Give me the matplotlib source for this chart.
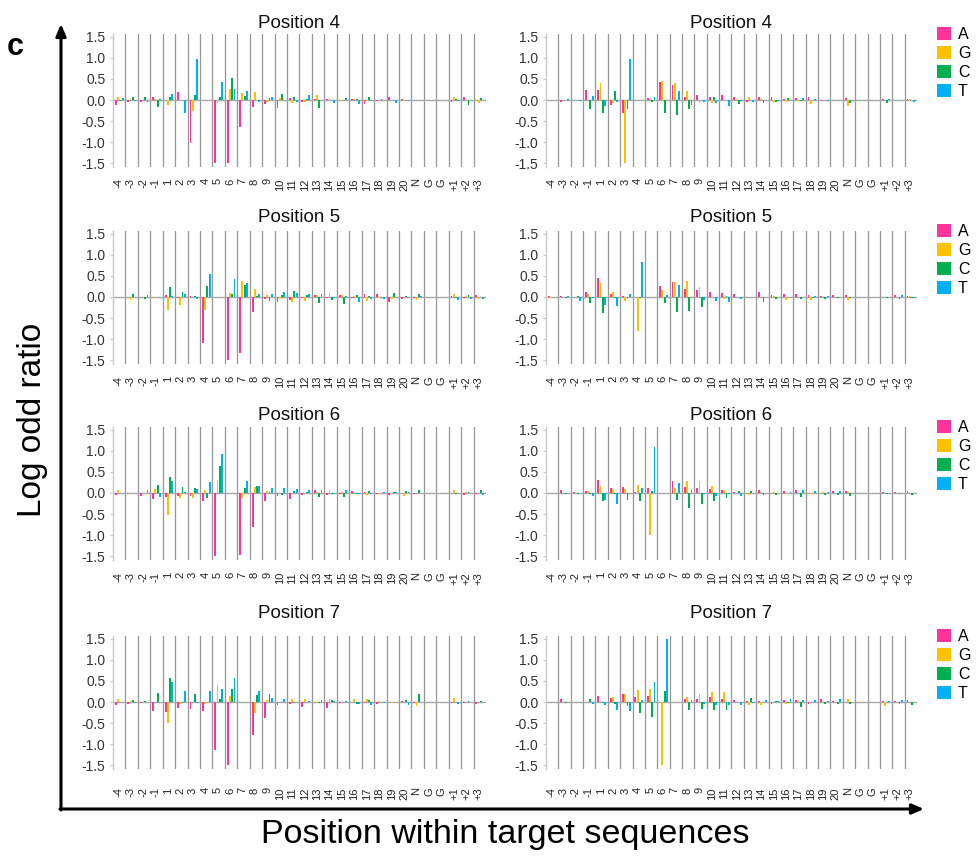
import matplotlib
matplotlib.use("Agg")
import matplotlib.pyplot as plt
from matplotlib.patches import Patch
import numpy as np

plt.rcParams['font.family'] = ['Liberation Sans', 'DejaVu Sans']
plt.rcParams['axes.unicode_minus'] = False

positions = ['-4', '-3', '-2', '-1'] + [str(i) for i in range(1, 21)] + ['N', 'G', 'G', '+1', '+2', '+3']
bases = ['A', 'G', 'C', 'T']
base_colors = ['#FF3399', '#FFC000', '#00B050', '#00B0F0']
titles = ['Position 4', 'Position 4', 'Position 5', 'Position 5',
          'Position 6', 'Position 6', 'Position 7', 'Position 7']

# ---- Left column, Position 4
L4_A = [-0.12,-0.05,-0.05,0.08,0.0,0.2,-1.02,0,-1.5,-1.5,-0.65,-0.17,-0.1,-0.2,0.04,-0.04,0.02,0.02,0.0,0.02,-0.1,-0.03,0.06,0.02,0.01,0,0,-0.05,0.06,0.0]
L4_G = [0.06,0.02,0.0,0.03,-0.12,0.0,-0.27,0,-0.08,0.27,0.17,0.2,-0.05,0.05,-0.08,-0.04,0.13,0.02,-0.02,0.02,-0.02,0.0,0.0,-0.02,0.0,0,0,0.07,0.0,-0.06]
L4_C = [-0.03,0.07,0.07,-0.17,0.07,0.0,0.12,0,0.08,0.53,0.1,0.0,0.05,0.15,0.08,0.02,-0.2,0.0,0.0,0.02,0.07,0.03,0.0,0.0,0.0,0,0,0.02,-0.12,0.05]
L4_T = [0.05,-0.03,-0.05,0.02,0.15,-0.3,0.97,0,0.43,0.27,0.22,-0.05,0.07,0.0,-0.05,0.12,0.0,-0.07,0.05,-0.1,-0.02,0.0,-0.07,-0.03,0.0,0,0,-0.03,0.0,0.0]

# ---- Right column, Position 4
R4_A = [-0.01,-0.05,0.0,0.23,0.23,-0.12,-0.3,0,0.04,0.42,0.35,0.07,0.13,0.07,0.11,0.06,-0.05,0.07,0.08,0.03,0.05,0.08,0.01,0.01,0.05,0,0,0.03,0.01,0.02]
R4_G = [-0.01,0.0,0.0,0.0,0.4,-0.07,-1.5,0,0.03,0.45,0.4,0.22,-0.07,-0.06,0.0,0.02,0.06,0.02,-0.05,-0.05,-0.03,-0.1,0.01,0.0,-0.15,0,0,0.0,0.0,0.02]
R4_C = [0.0,0.0,0.0,-0.22,-0.3,0.22,-0.22,0,-0.05,-0.3,-0.35,-0.22,0.0,0.07,0.0,-0.1,0.0,-0.06,-0.05,0.04,-0.03,0.0,0.0,0.0,-0.06,0,0,-0.07,0.0,0.0]
R4_T = [0.0,0.02,-0.02,0.1,-0.15,-0.05,0.98,0,0.07,0.0,0.22,-0.12,-0.04,-0.08,-0.14,-0.02,-0.04,0.0,-0.02,0.0,0.04,0.03,-0.02,0.0,0.0,0,0,0.03,0.0,-0.05]

# ---- Left column, Position 5
L5_A = [0.01,0.0,0.0,0.0,0.04,-0.02,0.02,-1.1,0,-1.5,-1.32,-0.35,-0.04,-0.12,-0.07,-0.03,0.04,-0.02,0.05,-0.02,0.07,0.07,-0.11,-0.04,-0.03,0,0,0.02,-0.02,0.05]
L5_G = [0.0,-0.07,0.0,-0.02,-0.32,-0.2,0.0,-0.3,0,0.1,0.38,0.18,0.05,-0.05,-0.12,-0.1,0.04,0.1,0.04,0.02,-0.1,-0.03,-0.05,0.0,-0.08,0,0,0.07,0.02,-0.04]
L5_C = [0.01,0.07,-0.05,0.0,0.23,0.13,0.02,0.27,0,0.07,0.28,0.03,-0.1,0.05,0.14,0.04,-0.15,-0.08,-0.17,0.04,0.02,-0.03,0.1,0.03,0.07,0,0,-0.03,0.05,0.0]
L5_T = [0.0,0.0,0.05,0.0,0.03,0.08,-0.04,0.55,0,0.42,0.33,0.07,0.06,0.12,0.1,0.08,0.06,-0.02,0.02,-0.12,-0.04,-0.05,0.0,0.0,0.02,0,0,-0.08,-0.05,-0.05]

# ---- Right column, Position 5
R5_A = [0.03,0.03,0.0,0.13,0.44,0.06,0.02,0.01,0,0.25,0.35,0.18,0.17,0.12,0.1,0.08,0.0,0.12,0.05,0.07,0.06,0.05,0.02,0.04,0.05,0,0,0.01,0.04,0.02]
R5_G = [-0.03,-0.03,0.0,0.07,0.33,0.13,-0.1,-0.8,0,0.16,0.35,0.38,0.23,0.0,-0.05,0.0,0.01,0.0,0.02,-0.07,0.0,-0.07,0.0,0.0,-0.08,0,0,0.0,0.0,0.02]
R5_C = [0.0,-0.02,0.03,-0.15,-0.37,-0.02,-0.03,-0.02,0,-0.15,-0.35,-0.33,-0.24,0.0,0.02,0.0,0.0,-0.12,-0.05,0.0,-0.04,-0.02,-0.05,-0.03,-0.03,0,0,-0.03,-0.05,-0.03]
R5_T = [0.0,0.03,-0.1,-0.02,-0.2,-0.22,0.07,0.82,0,0.05,0.28,-0.03,-0.08,-0.1,-0.13,-0.05,0.0,0.0,0.0,0.0,0.0,0.03,0.03,0.0,0.0,0,0,0.01,0.05,-0.02]

# ---- Left column, Position 6
L6_A = [-0.04,0.0,-0.07,-0.15,-0.1,-0.07,-0.08,-0.18,-1.5,0,-1.47,-0.8,-0.18,-0.07,-0.15,-0.04,0.08,-0.04,-0.02,0.05,0.03,-0.02,-0.04,0.0,-0.02,0,0,0.0,-0.04,-0.02]
L6_G = [0.07,0.0,0.0,0.1,-0.53,-0.12,-0.12,0.07,0.3,0,-0.12,0.15,0.05,0.0,0.0,0.0,0.02,0.07,0.03,0.0,-0.05,-0.02,0.0,-0.07,0.0,0,0,0.07,0.02,0.0]
L6_C = [0.0,0.0,0.0,0.2,0.37,0.15,0.12,-0.13,0.65,0,0.12,0.17,0.02,-0.05,0.04,0.02,-0.1,-0.02,-0.1,-0.03,0.05,0.0,0.02,0.05,0.08,0,0,-0.03,0.02,0.06]
L6_T = [0.0,0.0,0.08,-0.1,0.28,0.03,0.1,0.27,0.92,0,0.28,0.17,0.13,0.13,0.09,0.06,0.08,-0.02,0.06,-0.03,-0.03,0.03,0.02,0.02,0.0,0,0,0.0,0.0,-0.04]

# ---- Right column, Position 6
R6_A = [0.01,0.06,0.02,0.04,0.3,0.13,0.15,0.02,0.13,0,0.28,0.15,0.12,0.1,0.08,0.02,0.0,0.08,0.0,0.04,0.07,0.0,0.0,0.04,0.04,0,0,0.02,0.02,0.04]
R6_G = [0.0,0.0,0.0,0.04,0.17,0.1,0.1,0.18,-1.0,0,0.12,0.28,0.28,0.17,0.08,0.0,-0.05,0.02,0.03,-0.03,0.0,-0.03,0.03,0.0,0.03,0,0,-0.01,0.0,0.0]
R6_C = [0.0,-0.03,-0.02,-0.02,-0.2,-0.02,-0.17,-0.2,0.05,0,-0.16,-0.35,-0.25,-0.18,-0.13,0.05,0.05,-0.05,-0.04,0.0,-0.1,0.0,-0.05,-0.05,-0.06,0,0,-0.02,-0.03,-0.05]
R6_T = [0.0,0.0,0.0,-0.06,-0.17,-0.27,0.0,0.12,1.1,0,0.23,0.07,-0.02,-0.08,-0.03,-0.08,0.0,0.01,0.0,0.03,0.06,0.04,0.02,0.05,0.0,0,0,0.0,0.01,0.0]

# ---- Left column, Position 7
L7_A = [-0.06,-0.05,-0.02,-0.22,-0.23,-0.15,-0.17,-0.22,-1.15,-1.5,0,-0.78,-0.37,-0.07,-0.05,-0.12,0.0,-0.15,-0.02,0.0,-0.03,-0.04,0.0,0.02,-0.03,0,0,-0.02,-0.02,-0.05]
L7_G = [0.07,0.03,0.0,0.0,-0.5,-0.05,0.0,-0.05,0.4,0.15,0,-0.25,0.04,0.0,0.07,0.08,-0.02,0.06,0.0,0.06,0.07,0.03,-0.02,0.0,-0.1,0,0,0.1,0.01,0.0]
L7_C = [0.0,0.04,0.02,0.22,0.58,-0.03,0.2,0.0,0.08,0.3,0,0.17,0.18,0.0,-0.03,0.0,-0.02,0.05,0.0,-0.04,0.04,-0.01,0.0,0.04,0.2,0,0,0.0,0.02,0.03]
L7_T = [0.0,-0.02,0.0,0.0,0.47,0.27,-0.03,0.27,0.32,0.57,0,0.27,0.1,0.07,0.0,0.02,0.04,0.02,0.03,-0.04,-0.08,-0.02,0.0,-0.07,0.0,0,0,-0.04,0.0,0.0]

# ---- Right column, Position 7
R7_A = [0.01,0.07,0.01,0.0,0.15,0.1,0.18,0.13,0.15,0.0,0,0.07,0.07,0.12,0.08,0.04,0.02,0.02,-0.04,0.04,0.05,-0.04,0.08,0.02,0.0,0,0,0.02,0.03,0.04]
R7_G = [0.01,0.0,0.01,0.0,0.0,0.13,0.18,0.28,0.3,-1.5,0,0.13,0.2,0.23,0.23,0.0,-0.07,-0.06,0.0,-0.04,0.03,0.0,0.0,0.0,0.06,0,0,-0.1,0.0,0.0]
R7_C = [0.0,-0.03,0.0,0.06,-0.02,-0.05,-0.1,-0.25,-0.35,0.27,0,-0.18,-0.17,-0.2,-0.2,0.0,0.1,0.0,0.02,-0.02,-0.12,0.0,-0.05,-0.05,-0.04,0,0,0.0,-0.05,-0.07]
R7_T = [0.0,0.0,0.0,-0.05,-0.08,-0.2,-0.22,0.05,0.47,1.5,0,0.05,-0.05,-0.08,-0.07,-0.07,-0.03,0.05,0.02,0.07,0.05,0.05,0.02,0.06,0.0,0,0,0.03,0.05,0.0]

panels = [
    (L4_A, L4_G, L4_C, L4_T), (R4_A, R4_G, R4_C, R4_T),
    (L5_A, L5_G, L5_C, L5_T), (R5_A, R5_G, R5_C, R5_T),
    (L6_A, L6_G, L6_C, L6_T), (R6_A, R6_G, R6_C, R6_T),
    (L7_A, L7_G, L7_C, L7_T), (R7_A, R7_G, R7_C, R7_T),
]

W, H = 978, 865
fig = plt.figure(figsize=(W / 100, H / 100), dpi=100)

col_x = [(113, 373), (546, 371)]
row_zero = [100, 297, 493, 702]
title_y = [23, 218, 416, 613]
label_pad = [8.5, 9, 9, 13.5]
half = 66.5
ylim = 1.58

offsets = [-0.27, -0.09, 0.09, 0.27]
bw = 0.15
x = np.arange(len(positions))

for i, series in enumerate(panels):
    r, c = divmod(i, 2)
    left, width = col_x[c]
    bottom = H - (row_zero[r] + half)
    ax = fig.add_axes([left / W, bottom / H, width / W, 2 * half / H])
    for k in range(4):
        ax.bar(x + offsets[k], series[k], width=bw, color=base_colors[k], label=bases[k], zorder=3)
    # separators between positions
    for b in np.arange(0.5, len(positions) - 1, 1.0):
        ax.axvline(b, color='#969696', lw=0.9, zorder=1)
    ax.axhline(0, color='#a8a8a8', lw=1.0, zorder=2)
    ax.set_xlim(-0.5, len(positions) - 0.5)
    ax.set_ylim(-ylim, ylim)
    ax.set_yticks([-1.5, -1.0, -0.5, 0.0, 0.5, 1.0, 1.5])
    ax.set_yticklabels(['-1.5', '-1.0', '-0.5', '0.0', '0.5', '1.0', '1.5'])
    ax.set_xticks(x - 0.08)
    ax.set_xticklabels(positions, rotation=90)
    for s in ['top', 'right', 'bottom']:
        ax.spines[s].set_visible(False)
    ax.spines['left'].set_color('#c8c8c8')
    ax.spines['left'].set_linewidth(1.0)
    ax.tick_params(axis='x', length=0, pad=label_pad[r], labelsize=8, colors='#222222')
    ax.tick_params(axis='y', length=2.5, width=0.8, color='#c8c8c8', pad=3, labelsize=10, labelcolor='#333333')
    fig.text((left + width / 2) / W, 1 - title_y[r] / H, titles[i], ha='center', va='center', fontsize=13.5, color='#111111')
    if c == 1:
        handles = [Patch(facecolor=base_colors[k], edgecolor='none', label=bases[k]) for k in range(4)]
        ax.legend(handles=handles, loc='upper left', bbox_to_anchor=(1 + 20 / width, 1.05),
                  frameon=False, fontsize=11.5, handlelength=0.85, handleheight=0.85,
                  handletextpad=0.45, labelspacing=0.25, borderpad=0, borderaxespad=0)

# overlay for frame arrows and labels
ov = fig.add_axes([0, 0, 1, 1], zorder=-1)
ov.set_xlim(0, W)
ov.set_ylim(H, 0)
ov.axis('off')
ov.annotate('', xy=(61, 24), xytext=(61, 810),
            arrowprops=dict(arrowstyle='-|>,head_length=0.7,head_width=0.3', lw=2.2, color='black',
                            shrinkA=0, shrinkB=0))
ov.annotate('', xy=(924, 809), xytext=(60, 809),
            arrowprops=dict(arrowstyle='-|>,head_length=0.7,head_width=0.3', lw=2.2, color='black',
                            shrinkA=0, shrinkB=0))
fig.text(15 / W, 1 - 47 / H, 'c', ha='center', va='center', fontsize=22, fontweight='bold')
fig.text(33 / W, 1 - 420 / H, 'Log odd ratio', ha='center', va='center', rotation=90, fontsize=24)
fig.text(505 / W, 1 - 834 / H, 'Position within target sequences', ha='center', va='center', fontsize=24.5)

fig.savefig('out.png', dpi=100)
